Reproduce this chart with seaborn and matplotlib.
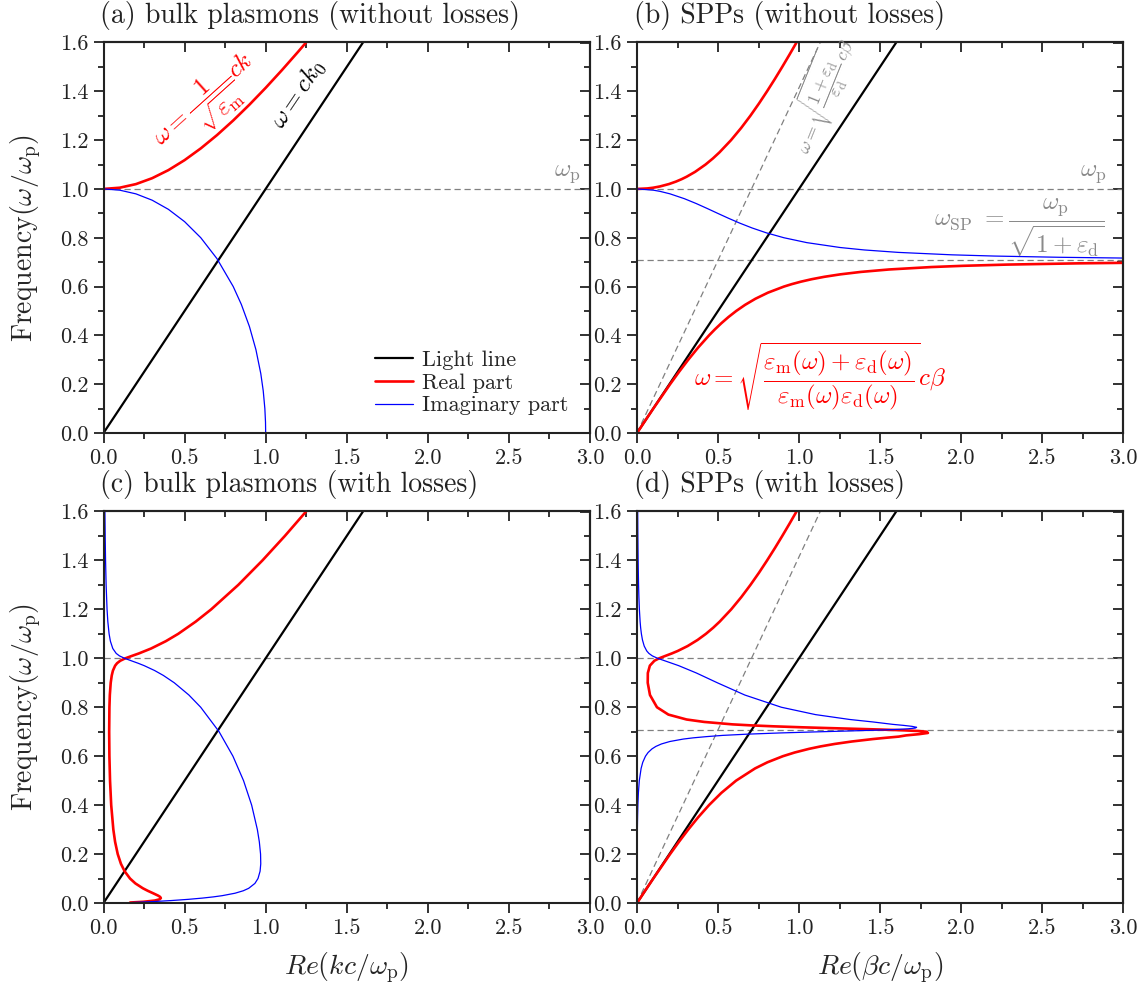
import matplotlib
matplotlib.use("Agg")
import matplotlib.pyplot as plt
import seaborn as sns
from matplotlib.ticker import MultipleLocator, FormatStrFormatter

# ---------------- data ----------------
# panel (a): bulk plasmons without losses
a_light_k = [0.0, 1.6]
a_light_w = [0.0, 1.6]
a_re_k = [0.0, 0.1, 0.2, 0.3, 0.4, 0.5, 0.6, 0.7, 0.8, 0.9, 1.0, 1.1, 1.2, 1.249]
a_re_w = [1.0, 1.005, 1.0198, 1.044, 1.077, 1.118, 1.1662, 1.2207, 1.2806, 1.3454, 1.4142, 1.4866, 1.562, 1.6]
a_im_k = [0.0, 0.1, 0.2, 0.3, 0.4, 0.5, 0.6, 0.7, 0.8, 0.85, 0.9, 0.94, 0.97, 0.985, 0.995, 0.999, 1.0]
a_im_w = [1.0, 0.995, 0.9798, 0.9539, 0.9165, 0.866, 0.8, 0.7141, 0.6, 0.5268, 0.4359, 0.3412, 0.2431, 0.1726, 0.0999, 0.0447, 0.0]

# panel (b): SPPs without losses
b_light_k = [0.0, 1.6]
b_light_w = [0.0, 1.6]
b_dash_k = [0.0, 1.131]
b_dash_w = [0.0, 1.6]
b_re_up_k = [0.0, 0.0632, 0.0996, 0.1404, 0.1972, 0.240, 0.2755, 0.3062, 0.3586, 0.423, 0.4686, 0.5092, 0.5805,
             0.6431, 0.700, 0.7528, 0.8027, 0.8505, 0.8964, 0.941, 0.9845]
b_re_up_w = [1.0, 1.002, 1.005, 1.01, 1.02, 1.03, 1.04, 1.05, 1.07, 1.1, 1.125, 1.15, 1.2, 1.25, 1.3, 1.35, 1.4,
             1.45, 1.5, 1.55, 1.6]
b_re_lo_k = [0.0, 0.1005, 0.2043, 0.2588, 0.316, 0.3773, 0.4446, 0.4814, 0.521, 0.5643, 0.6124, 0.6670, 0.7309,
             0.8083, 0.9071, 0.9557, 1.0117, 1.0774, 1.1565, 1.2546, 1.3816, 1.5559, 1.8182, 2.0116, 2.2843,
             2.712, 3.0]
b_re_lo_w = [0.0, 0.1, 0.2, 0.25, 0.3, 0.35, 0.4, 0.425, 0.45, 0.475, 0.5, 0.525, 0.55, 0.575, 0.6, 0.61, 0.62,
             0.63, 0.64, 0.65, 0.66, 0.67, 0.68, 0.685, 0.69, 0.695, 0.6972]
b_im_k = [0.0, 0.1004, 0.1425, 0.2032, 0.2927, 0.3662, 0.4332, 0.4982, 0.5642, 0.634, 0.7108, 0.7993, 0.9071,
          1.0483, 1.2538, 1.4031, 1.6132, 1.945, 2.2057, 2.6047, 2.9775, 3.0]
b_im_w = [1.0, 0.995, 0.99, 0.98, 0.96, 0.94, 0.92, 0.9, 0.88, 0.86, 0.84, 0.82, 0.8, 0.78, 0.76, 0.75, 0.74,
          0.73, 0.725, 0.72, 0.717, 0.7168]

# panel (c): bulk plasmons with losses
c_light_k = [0.0, 1.6]
c_light_w = [0.0, 1.6]
c_w = [0.002, 0.005, 0.01, 0.015, 0.02, 0.025, 0.03, 0.04, 0.05, 0.06, 0.08, 0.1, 0.13, 0.16, 0.2, 0.25,
       0.3, 0.4, 0.5, 0.6, 0.7, 0.8, 0.85, 0.9, 0.93, 0.95, 0.97, 0.98, 0.99, 1.0, 1.01, 1.02, 1.04, 1.07,
       1.1, 1.15, 1.2, 1.3, 1.4, 1.5, 1.6]
c_re_k = [0.164, 0.2464, 0.3157, 0.3456, 0.3537, 0.349, 0.3373, 0.3055, 0.2725, 0.2431, 0.1967, 0.1636, 0.130,
          0.1076, 0.0877, 0.0715, 0.0607, 0.0475, 0.0403, 0.0364, 0.035, 0.0365, 0.039, 0.0445, 0.0509, 0.0583,
          0.0718, 0.0838, 0.1032, 0.1345, 0.176, 0.2185, 0.2933, 0.3844, 0.4607, 0.5687, 0.664, 0.8311, 0.9801,
          1.1183, 1.2492]
c_im_k = [0.1736, 0.2841, 0.4184, 0.5238, 0.609, 0.6775, 0.7324, 0.8112, 0.8619, 0.8953, 0.9336, 0.9527, 0.9656,
          0.9697, 0.9685, 0.9609, 0.9488, 0.9136, 0.8636, 0.7982, 0.7128, 0.5995, 0.5266, 0.4364, 0.3692, 0.3155,
          0.2509, 0.2129, 0.1712, 0.1299, 0.0983, 0.0784, 0.0573, 0.0425, 0.0345, 0.0267, 0.0219, 0.0162, 0.0127,
          0.0104, 0.0087]

# panel (d): SPPs with losses
d_light_k = [0.0, 1.6]
d_light_w = [0.0, 1.6]
d_dash_k = [0.0, 1.131]
d_dash_w = [0.0, 1.6]
d_w = [0.0, 0.05, 0.1, 0.2, 0.25, 0.3, 0.35, 0.4, 0.45, 0.5, 0.55, 0.575, 0.6, 0.615, 0.63, 0.64, 0.65, 0.66,
       0.67, 0.675, 0.68, 0.685, 0.69, 0.695, 0.7, 0.703, 0.706, 0.709, 0.712, 0.715, 0.718, 0.722, 0.726, 0.73,
       0.74, 0.75, 0.77, 0.8, 0.85, 0.9, 0.94, 0.97, 0.99, 1.0, 1.01, 1.02, 1.03, 1.05, 1.075, 1.1, 1.125, 1.15,
       1.2, 1.25, 1.3, 1.35, 1.4, 1.45, 1.5, 1.55, 1.6]
d_re_k = [0.0, 0.0501, 0.1005, 0.2043, 0.2588, 0.316, 0.3772, 0.4444, 0.5206, 0.6115, 0.7288, 0.8049, 0.9008,
          0.973, 1.0618, 1.1339, 1.2202, 1.3256, 1.4561, 1.5325, 1.6159, 1.661, 1.741, 1.796, 1.787, 1.733,
          1.635, 1.499, 1.340, 1.176, 1.022, 0.845, 0.702, 0.590, 0.4149, 0.3058, 0.1938, 0.1233, 0.0801,
          0.0662, 0.0669, 0.0794, 0.1073, 0.1367, 0.1757, 0.2154, 0.2513, 0.3122, 0.3738, 0.4254, 0.4703,
          0.5105, 0.5814, 0.6437, 0.7003, 0.7532, 0.803, 0.8507, 0.8966, 0.9412, 0.9847]
d_im_k = [0.0, 0.00004, 0.0002, 0.0008, 0.0014, 0.0022, 0.0035, 0.0054, 0.0086, 0.0142, 0.0254, 0.0355, 0.0524,
          0.0684, 0.0927, 0.1166, 0.1509, 0.2027, 0.2859, 0.3474, 0.4299, 0.529, 0.680, 0.884, 1.140, 1.305,
          1.460, 1.588, 1.674, 1.718, 1.726, 1.697, 1.644, 1.580, 1.4551, 1.3133, 1.1013, 0.8911, 0.6654, 0.496,
          0.3666, 0.2573, 0.1708, 0.1274, 0.0944, 0.0735, 0.0602, 0.0445, 0.0337, 0.0271, 0.0225, 0.0192,
          0.0147, 0.0117, 0.0097, 0.0082, 0.007, 0.0061, 0.0054, 0.0048, 0.0043]

w_p = 1.0
w_sp = 0.7071

# ---------------- style ----------------
sns.set_style("ticks")
plt.rcParams.update({
    "font.family": "serif",
    "font.serif": ["cmr10", "DejaVu Serif"],
    "mathtext.fontset": "cm",
    "axes.formatter.use_mathtext": True,
    "axes.unicode_minus": False,
    "axes.edgecolor": "#222222",
    "axes.linewidth": 1.5,
    "xtick.color": "#222222",
    "ytick.color": "#222222",
    "xtick.labelcolor": "#222222",
    "ytick.labelcolor": "#222222",
})

RED = "#ff0000"
BLUE = "#0000ff"
GRAY = "#808080"
TGRAY = "#8a8a8a"

fig = plt.figure(figsize=(11.48, 9.88), dpi=100)
W, H = 1148.0, 988.0


def add_ax(l, t, r, b):
    return fig.add_axes([l / W, 1 - b / H, (r - l) / W, (b - t) / H])


ax_a = add_ax(103.5, 42.5, 590, 433)
ax_b = add_ax(637, 42.5, 1123, 433)
ax_c = add_ax(103.5, 511.5, 590, 903)
ax_d = add_ax(637, 511.5, 1123, 903)


def line(ax, x, y, color, lw, label=None, ls="-"):
    sns.lineplot(x=x, y=y, ax=ax, color=color, lw=lw, sort=False, estimator=None,
                 label=label, linestyle=ls)


def hdash(ax, y):
    ax.axhline(y, color=GRAY, lw=0.9, ls=(0, (5, 3)), zorder=1)


def style(ax, title, xlabel):
    ax.set_xlim(0, 3.0)
    ax.set_ylim(0, 1.6)
    ax.xaxis.set_major_locator(MultipleLocator(0.5))
    ax.xaxis.set_minor_locator(MultipleLocator(0.25))
    ax.yaxis.set_major_locator(MultipleLocator(0.2))
    ax.yaxis.set_minor_locator(MultipleLocator(0.1))
    ax.xaxis.set_major_formatter(FormatStrFormatter("%.1f"))
    ax.yaxis.set_major_formatter(FormatStrFormatter("%.1f"))
    ax.tick_params(which="major", direction="out", length=7, width=1.3, labelsize=16, pad=4)
    ax.tick_params(which="minor", direction="out", length=4.5, width=1.3)
    for sp in ax.spines.values():
        sp.set_visible(True)
        sp.set_linewidth(1.5)
    sx = ax.secondary_xaxis("top")
    sx.xaxis.set_major_locator(MultipleLocator(0.5))
    sx.xaxis.set_minor_locator(MultipleLocator(0.25))
    sx.tick_params(which="major", direction="in", length=7, width=1.3, labeltop=False)
    sx.tick_params(which="minor", direction="in", length=4.5, width=1.3)
    sx.spines["top"].set_linewidth(1.5)
    sy = ax.secondary_yaxis("right")
    sy.yaxis.set_major_locator(MultipleLocator(0.2))
    sy.yaxis.set_minor_locator(MultipleLocator(0.1))
    sy.tick_params(which="major", direction="in", length=7, width=1.3, labelright=False)
    sy.tick_params(which="minor", direction="in", length=4.5, width=1.3)
    sy.spines["right"].set_linewidth(1.5)
    ax.text(-0.007, 1.05, title, transform=ax.transAxes, fontsize=20, ha="left",
            va="baseline", color="#222222")
    if xlabel:
        ax.set_xlabel(xlabel, fontsize=20, labelpad=9)
    else:
        ax.set_xlabel("")
    ax.set_ylabel("")


# (a)
hdash(ax_a, w_p)
line(ax_a, a_light_k, a_light_w, "black", 1.6, label="Light line")
line(ax_a, a_re_k, a_re_w, RED, 1.9, label="Real part")
line(ax_a, a_im_k, a_im_w, BLUE, 0.9, label="Imaginary part")
ax_a.legend(loc="lower right", bbox_to_anchor=(0.955, 0.045), frameon=False, fontsize=16,
            handlelength=1.7, handletextpad=0.4, labelspacing=0.15, borderpad=0, borderaxespad=0)
ax_a.text(0.64, 1.35, r"$\omega = \dfrac{1}{\sqrt{\varepsilon_{\rm m}}}ck$", color=RED, fontsize=18,
          rotation=42, ha="center", va="center")
ax_a.text(1.20, 1.39, r"$\omega = ck_0$", color="black", fontsize=18, rotation=56, ha="center", va="center")
ax_a.text(2.86, 1.06, r"$\omega_{\rm p}$", color=TGRAY, fontsize=18, ha="center", va="center")
style(ax_a, "(a) bulk plasmons (without losses)", None)
ax_a.set_ylabel(r"Frequency$(\omega/\omega_{\rm p})$", fontsize=20, labelpad=12)

# (b)
hdash(ax_b, w_p)
hdash(ax_b, w_sp)
line(ax_b, b_dash_k, b_dash_w, GRAY, 0.9, ls=(0, (5, 3)))
line(ax_b, b_light_k, b_light_w, "black", 1.6)
line(ax_b, b_re_up_k, b_re_up_w, RED, 1.9)
line(ax_b, b_re_lo_k, b_re_lo_w, RED, 1.9)
line(ax_b, b_im_k, b_im_w, BLUE, 0.9)
ax_b.text(1.14, 1.385, r"$\omega = \sqrt{\dfrac{1+\varepsilon_{\rm d}}{\varepsilon_{\rm d}}}c\beta$", color=TGRAY,
          fontsize=13, rotation=68, ha="center", va="center")
ax_b.text(2.82, 1.06, r"$\omega_{\rm p}$", color=TGRAY, fontsize=18, ha="center", va="center")
ax_b.text(2.36, 0.84, r"$\omega_{\rm SP}\ = \dfrac{\omega_{\rm p}}{\sqrt{1+\varepsilon_{\rm d}}}$", color=TGRAY,
          fontsize=18, ha="center", va="center")
ax_b.text(1.13, 0.23,
          r"$\omega =\sqrt{\dfrac{\varepsilon_{\rm m}(\omega)+\varepsilon_{\rm d}(\omega)}{\varepsilon_{\rm m}(\omega)\varepsilon_{\rm d}(\omega)}}c\beta$",
          color=RED, fontsize=18, ha="center", va="center")
style(ax_b, "(b) SPPs (without losses)", None)

# (c)
hdash(ax_c, w_p)
line(ax_c, c_light_k, c_light_w, "black", 1.6)
line(ax_c, c_re_k, c_w, RED, 1.9)
line(ax_c, c_im_k, c_w, BLUE, 0.9)
style(ax_c, "(c) bulk plasmons (with losses)", r"$Re(kc/\omega_{\rm p})$")
ax_c.set_ylabel(r"Frequency$(\omega/\omega_{\rm p})$", fontsize=20, labelpad=12)

# (d)
hdash(ax_d, w_p)
hdash(ax_d, w_sp)
line(ax_d, d_dash_k, d_dash_w, GRAY, 0.9, ls=(0, (5, 3)))
line(ax_d, d_light_k, d_light_w, "black", 1.6)
line(ax_d, d_re_k, d_w, RED, 1.9)
line(ax_d, d_im_k, d_w, BLUE, 0.9)
style(ax_d, "(d) SPPs (with losses)", r"$Re(\beta c/\omega_{\rm p})$")

for ax in (ax_b, ax_c, ax_d):
    if ax.get_legend() is not None:
        ax.get_legend().remove()

fig.savefig("out.png", dpi=100)
